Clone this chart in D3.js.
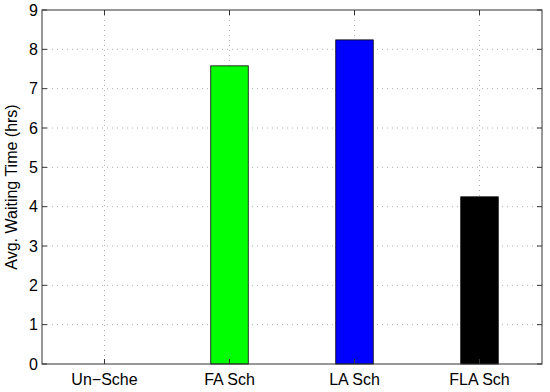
<!DOCTYPE html>
<html><head><meta charset="utf-8">
<script src="https://cdn.jsdelivr.net/npm/d3@7"></script>
<style>
body{margin:0;background:#fff;}
text{font-family:"Liberation Sans",Arial,Helvetica,sans-serif;}
</style></head>
<body><svg id="c" width="550" height="392"></svg>
<script>
const categories = ["Un\u2212Sche","FA Sch","LA Sch","FLA Sch"];
const values = [0, 7.58, 8.24, 4.25];
const colors = ["#0000ff","#00ff00","#0000ff","#000000"];
const yTicks = [0,1,2,3,4,5,6,7,8,9];
const yLabel = "Avg. Waiting Time (hrs)";

const svg = d3.select("#c");
const L=42, R=542, T=10, B=364;
const x = d3.scaleLinear().domain([0.5, categories.length+0.5]).range([L,R]);
const y = d3.scaleLinear().domain([0,9]).range([B,T]);
const bw = 0.3;

const g = svg.append("g");
// grid
g.selectAll(".gy").data(yTicks.slice(1,-1)).join("line")
 .attr("x1",L).attr("x2",R).attr("y1",d=>y(d)).attr("y2",d=>y(d))
 .attr("stroke","#b0b0b0").attr("stroke-width",1).attr("stroke-dasharray","1,4");
g.selectAll(".gx").data(categories.map((c,i)=>i+1)).join("line")
 .attr("x1",d=>x(d)).attr("x2",d=>x(d)).attr("y1",T).attr("y2",B)
 .attr("stroke","#b0b0b0").attr("stroke-width",1).attr("stroke-dasharray","1,4");

// bars
g.selectAll(".bar").data(values).join("rect")
 .attr("x",(d,i)=>x(i+1-bw/2)).attr("width",(d,i)=>x(i+1+bw/2)-x(i+1-bw/2))
 .attr("y",d=>y(d)).attr("height",d=>y(0)-y(d))
 .attr("fill",(d,i)=>colors[i]).attr("stroke","#000").attr("stroke-width",0.8)
 .style("display",d=>d>0?null:"none");

// axes
const ax = svg.append("g").attr("stroke","#333");
ax.append("rect").attr("x",L).attr("y",T).attr("width",R-L).attr("height",B-T)
 .attr("fill","none").attr("stroke","#333").attr("stroke-width",1);
yTicks.forEach(t=>{
  ax.append("line").attr("x1",L).attr("x2",L+5).attr("y1",y(t)).attr("y2",y(t));
  ax.append("line").attr("x1",R).attr("x2",R-5).attr("y1",y(t)).attr("y2",y(t));
});
categories.forEach((c,i)=>{
  ax.append("line").attr("x1",x(i+1)).attr("x2",x(i+1)).attr("y1",B).attr("y2",B-5);
  ax.append("line").attr("x1",x(i+1)).attr("x2",x(i+1)).attr("y1",T).attr("y2",T+5);
});
svg.selectAll(".yt").data(yTicks).join("text")
 .attr("x",L-4).attr("y",d=>y(d)).attr("dy","0.36em").attr("text-anchor","end")
 .attr("font-size",16).attr("fill","#000").text(d=>d);
svg.selectAll(".xt").data(categories).join("text")
 .attr("x",(d,i)=>x(i+1)).attr("y",B+21).attr("text-anchor","middle")
 .attr("font-size",16).attr("fill","#000").text(d=>d);
svg.append("text").attr("transform",`translate(17,${(T+B)/2}) rotate(-90)`)
 .attr("text-anchor","middle").attr("font-size",16).attr("fill","#000").text(yLabel);
</script></body></html>
